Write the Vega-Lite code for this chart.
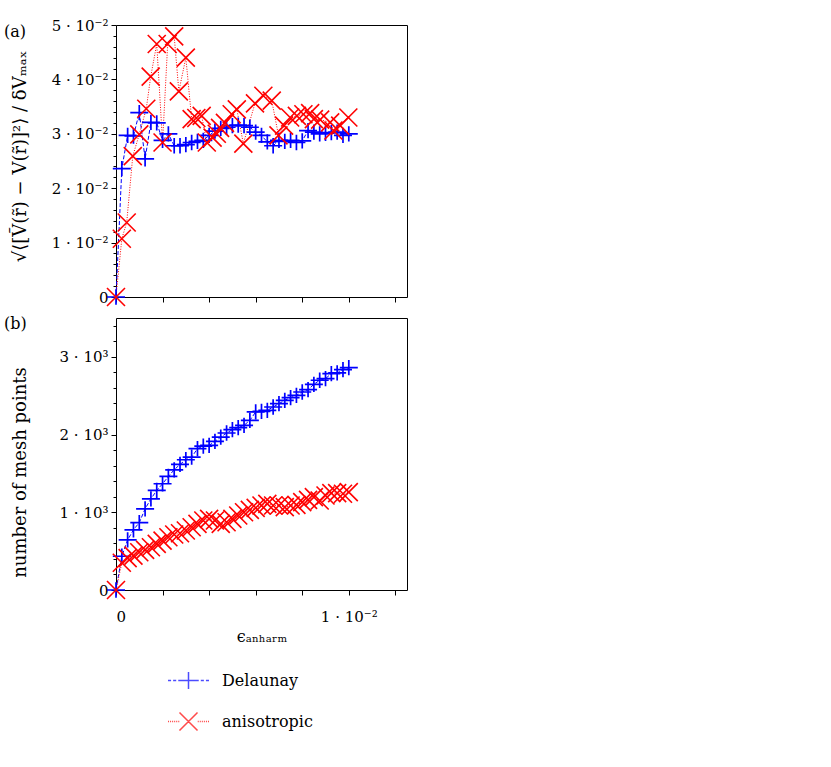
{
  "$schema": "https://vega.github.io/schema/vega-lite/v6.json",
  "padding": {"left": 3, "top": 17, "right": 5, "bottom": 5},
  "background": "white",
  "bounds": "flush",
  "spacing": 21,
  "datasets": {
    "a": [
      {"eps": 0, "value": 0, "method": "Delaunay"},
      {"eps": 0.00025, "value": 0.0236, "method": "Delaunay"},
      {"eps": 0.0005, "value": 0.0297, "method": "Delaunay"},
      {"eps": 0.00075, "value": 0.0296, "method": "Delaunay"},
      {"eps": 0.001, "value": 0.0339, "method": "Delaunay"},
      {"eps": 0.00125, "value": 0.0254, "method": "Delaunay"},
      {"eps": 0.0015, "value": 0.0321, "method": "Delaunay"},
      {"eps": 0.00175, "value": 0.032, "method": "Delaunay"},
      {"eps": 0.002, "value": 0.0288, "method": "Delaunay"},
      {"eps": 0.00225, "value": 0.03, "method": "Delaunay"},
      {"eps": 0.0025, "value": 0.0278, "method": "Delaunay"},
      {"eps": 0.00275, "value": 0.0278, "method": "Delaunay"},
      {"eps": 0.003, "value": 0.028, "method": "Delaunay"},
      {"eps": 0.00325, "value": 0.0284, "method": "Delaunay"},
      {"eps": 0.0035, "value": 0.0286, "method": "Delaunay"},
      {"eps": 0.00375, "value": 0.0288, "method": "Delaunay"},
      {"eps": 0.004, "value": 0.0297, "method": "Delaunay"},
      {"eps": 0.00425, "value": 0.0305, "method": "Delaunay"},
      {"eps": 0.0045, "value": 0.031, "method": "Delaunay"},
      {"eps": 0.00475, "value": 0.0312, "method": "Delaunay"},
      {"eps": 0.005, "value": 0.0315, "method": "Delaunay"},
      {"eps": 0.00525, "value": 0.0316, "method": "Delaunay"},
      {"eps": 0.0055, "value": 0.0315, "method": "Delaunay"},
      {"eps": 0.00575, "value": 0.0312, "method": "Delaunay"},
      {"eps": 0.006, "value": 0.0303, "method": "Delaunay"},
      {"eps": 0.00625, "value": 0.0297, "method": "Delaunay"},
      {"eps": 0.0065, "value": 0.0285, "method": "Delaunay"},
      {"eps": 0.00675, "value": 0.0278, "method": "Delaunay"},
      {"eps": 0.007, "value": 0.0288, "method": "Delaunay"},
      {"eps": 0.00725, "value": 0.0286, "method": "Delaunay"},
      {"eps": 0.0075, "value": 0.0288, "method": "Delaunay"},
      {"eps": 0.00775, "value": 0.0284, "method": "Delaunay"},
      {"eps": 0.008, "value": 0.0287, "method": "Delaunay"},
      {"eps": 0.00825, "value": 0.0306, "method": "Delaunay"},
      {"eps": 0.0085, "value": 0.0303, "method": "Delaunay"},
      {"eps": 0.00875, "value": 0.03, "method": "Delaunay"},
      {"eps": 0.009, "value": 0.0301, "method": "Delaunay"},
      {"eps": 0.00925, "value": 0.0302, "method": "Delaunay"},
      {"eps": 0.0095, "value": 0.0303, "method": "Delaunay"},
      {"eps": 0.00975, "value": 0.0297, "method": "Delaunay"},
      {"eps": 0.01, "value": 0.03, "method": "Delaunay"},
      {"eps": 0, "value": 0, "method": "anisotropic"},
      {"eps": 0.00025, "value": 0.0107, "method": "anisotropic"},
      {"eps": 0.00046, "value": 0.0137, "method": "anisotropic"},
      {"eps": 0.00072, "value": 0.0259, "method": "anisotropic"},
      {"eps": 0.001, "value": 0.0299, "method": "anisotropic"},
      {"eps": 0.0013, "value": 0.0346, "method": "anisotropic"},
      {"eps": 0.00149, "value": 0.0405, "method": "anisotropic"},
      {"eps": 0.00175, "value": 0.0465, "method": "anisotropic"},
      {"eps": 0.002, "value": 0.0284, "method": "anisotropic"},
      {"eps": 0.00222, "value": 0.0465, "method": "anisotropic"},
      {"eps": 0.0025, "value": 0.0479, "method": "anisotropic"},
      {"eps": 0.0027, "value": 0.0378, "method": "anisotropic"},
      {"eps": 0.003, "value": 0.044, "method": "anisotropic"},
      {"eps": 0.00325, "value": 0.0327, "method": "anisotropic"},
      {"eps": 0.00345, "value": 0.0329, "method": "anisotropic"},
      {"eps": 0.00368, "value": 0.0333, "method": "anisotropic"},
      {"eps": 0.0039, "value": 0.0284, "method": "anisotropic"},
      {"eps": 0.00415, "value": 0.0293, "method": "anisotropic"},
      {"eps": 0.00433, "value": 0.03, "method": "anisotropic"},
      {"eps": 0.00447, "value": 0.0311, "method": "anisotropic"},
      {"eps": 0.00468, "value": 0.032, "method": "anisotropic"},
      {"eps": 0.00497, "value": 0.0336, "method": "anisotropic"},
      {"eps": 0.00519, "value": 0.0345, "method": "anisotropic"},
      {"eps": 0.00547, "value": 0.0282, "method": "anisotropic"},
      {"eps": 0.00597, "value": 0.0356, "method": "anisotropic"},
      {"eps": 0.00633, "value": 0.037, "method": "anisotropic"},
      {"eps": 0.00669, "value": 0.0361, "method": "anisotropic"},
      {"eps": 0.00698, "value": 0.0297, "method": "anisotropic"},
      {"eps": 0.00722, "value": 0.0315, "method": "anisotropic"},
      {"eps": 0.00748, "value": 0.033, "method": "anisotropic"},
      {"eps": 0.00777, "value": 0.0333, "method": "anisotropic"},
      {"eps": 0.00805, "value": 0.0336, "method": "anisotropic"},
      {"eps": 0.00834, "value": 0.0338, "method": "anisotropic"},
      {"eps": 0.0085, "value": 0.0327, "method": "anisotropic"},
      {"eps": 0.00877, "value": 0.0326, "method": "anisotropic"},
      {"eps": 0.0092, "value": 0.0321, "method": "anisotropic"},
      {"eps": 0.00934, "value": 0.0306, "method": "anisotropic"},
      {"eps": 0.00963, "value": 0.0315, "method": "anisotropic"},
      {"eps": 0.00998, "value": 0.033, "method": "anisotropic"}
    ],
    "b": [
      {"eps": 0, "value": 0, "method": "Delaunay"},
      {"eps": 0.00025, "value": 434, "method": "Delaunay"},
      {"eps": 0.0005, "value": 645, "method": "Delaunay"},
      {"eps": 0.00075, "value": 774, "method": "Delaunay"},
      {"eps": 0.001, "value": 868, "method": "Delaunay"},
      {"eps": 0.00125, "value": 1044, "method": "Delaunay"},
      {"eps": 0.0015, "value": 1173, "method": "Delaunay"},
      {"eps": 0.00175, "value": 1281, "method": "Delaunay"},
      {"eps": 0.002, "value": 1367, "method": "Delaunay"},
      {"eps": 0.00225, "value": 1461, "method": "Delaunay"},
      {"eps": 0.0025, "value": 1547, "method": "Delaunay"},
      {"eps": 0.00275, "value": 1616, "method": "Delaunay"},
      {"eps": 0.003, "value": 1676, "method": "Delaunay"},
      {"eps": 0.00325, "value": 1710, "method": "Delaunay"},
      {"eps": 0.0035, "value": 1818, "method": "Delaunay"},
      {"eps": 0.00375, "value": 1852, "method": "Delaunay"},
      {"eps": 0.004, "value": 1861, "method": "Delaunay"},
      {"eps": 0.00425, "value": 1912, "method": "Delaunay"},
      {"eps": 0.0045, "value": 1968, "method": "Delaunay"},
      {"eps": 0.00475, "value": 2020, "method": "Delaunay"},
      {"eps": 0.005, "value": 2063, "method": "Delaunay"},
      {"eps": 0.00525, "value": 2089, "method": "Delaunay"},
      {"eps": 0.0055, "value": 2119, "method": "Delaunay"},
      {"eps": 0.00575, "value": 2183, "method": "Delaunay"},
      {"eps": 0.006, "value": 2291, "method": "Delaunay"},
      {"eps": 0.00625, "value": 2299, "method": "Delaunay"},
      {"eps": 0.0065, "value": 2312, "method": "Delaunay"},
      {"eps": 0.00675, "value": 2355, "method": "Delaunay"},
      {"eps": 0.007, "value": 2398, "method": "Delaunay"},
      {"eps": 0.00725, "value": 2441, "method": "Delaunay"},
      {"eps": 0.0075, "value": 2475, "method": "Delaunay"},
      {"eps": 0.00775, "value": 2505, "method": "Delaunay"},
      {"eps": 0.008, "value": 2548, "method": "Delaunay"},
      {"eps": 0.00825, "value": 2578, "method": "Delaunay"},
      {"eps": 0.0085, "value": 2647, "method": "Delaunay"},
      {"eps": 0.00875, "value": 2699, "method": "Delaunay"},
      {"eps": 0.009, "value": 2720, "method": "Delaunay"},
      {"eps": 0.00925, "value": 2785, "method": "Delaunay"},
      {"eps": 0.0095, "value": 2793, "method": "Delaunay"},
      {"eps": 0.00975, "value": 2836, "method": "Delaunay"},
      {"eps": 0.01, "value": 2862, "method": "Delaunay"},
      {"eps": 0, "value": 0, "method": "anisotropic"},
      {"eps": 0.00025, "value": 350, "method": "anisotropic"},
      {"eps": 0.0005, "value": 410, "method": "anisotropic"},
      {"eps": 0.00075, "value": 443, "method": "anisotropic"},
      {"eps": 0.001, "value": 486, "method": "anisotropic"},
      {"eps": 0.00125, "value": 516, "method": "anisotropic"},
      {"eps": 0.0015, "value": 550, "method": "anisotropic"},
      {"eps": 0.00175, "value": 593, "method": "anisotropic"},
      {"eps": 0.002, "value": 636, "method": "anisotropic"},
      {"eps": 0.00225, "value": 679, "method": "anisotropic"},
      {"eps": 0.0025, "value": 714, "method": "anisotropic"},
      {"eps": 0.00275, "value": 731, "method": "anisotropic"},
      {"eps": 0.003, "value": 765, "method": "anisotropic"},
      {"eps": 0.00325, "value": 808, "method": "anisotropic"},
      {"eps": 0.0035, "value": 851, "method": "anisotropic"},
      {"eps": 0.00375, "value": 894, "method": "anisotropic"},
      {"eps": 0.004, "value": 915, "method": "anisotropic"},
      {"eps": 0.00425, "value": 894, "method": "anisotropic"},
      {"eps": 0.0045, "value": 851, "method": "anisotropic"},
      {"eps": 0.00475, "value": 872, "method": "anisotropic"},
      {"eps": 0.005, "value": 915, "method": "anisotropic"},
      {"eps": 0.00525, "value": 958, "method": "anisotropic"},
      {"eps": 0.0055, "value": 1001, "method": "anisotropic"},
      {"eps": 0.00575, "value": 1031, "method": "anisotropic"},
      {"eps": 0.006, "value": 1057, "method": "anisotropic"},
      {"eps": 0.00625, "value": 1087, "method": "anisotropic"},
      {"eps": 0.0065, "value": 1109, "method": "anisotropic"},
      {"eps": 0.00675, "value": 1087, "method": "anisotropic"},
      {"eps": 0.007, "value": 1087, "method": "anisotropic"},
      {"eps": 0.00725, "value": 1066, "method": "anisotropic"},
      {"eps": 0.0075, "value": 1087, "method": "anisotropic"},
      {"eps": 0.00775, "value": 1096, "method": "anisotropic"},
      {"eps": 0.008, "value": 1130, "method": "anisotropic"},
      {"eps": 0.00825, "value": 1160, "method": "anisotropic"},
      {"eps": 0.0085, "value": 1195, "method": "anisotropic"},
      {"eps": 0.00875, "value": 1152, "method": "anisotropic"},
      {"eps": 0.009, "value": 1216, "method": "anisotropic"},
      {"eps": 0.00925, "value": 1246, "method": "anisotropic"},
      {"eps": 0.0095, "value": 1246, "method": "anisotropic"},
      {"eps": 0.00975, "value": 1238, "method": "anisotropic"},
      {"eps": 0.01, "value": 1259, "method": "anisotropic"}
    ]
  },
  "resolve": {"scale": {"y": "independent", "x": "independent"}, "axis": {"y": "independent", "x": "independent"}},
  "vconcat": [
    {
      "width": 291,
      "height": 272,
      "data": {"name": "a"},
      "title": {"text": "(a)", "anchor": "start", "frame": "bounds", "orient": "top", "baseline": "top", "offset": 0, "dx": -7, "dy": 22, "fontSize": 16, "font": "DejaVu Serif", "fontWeight": "normal", "color": "black"},
      "resolve": {"axis": {"y": "independent"}},
      "layer": [
        {
          "transform": [{"filter": "datum.method === 'Delaunay'"}],
          "mark": {"type": "line", "strokeWidth": 1, "strokeDash": [4, 2], "color": "#0000ff"},
          "encoding": {
            "x": {"field": "eps", "type": "quantitative", "scale": {"domain": [0, 0.0125], "nice": false, "zero": false},
                  "axis": {"values": [0, 0.002, 0.004, 0.006, 0.008, 0.01, 0.012], "labels": false, "title": null}},
            "y": {"field": "value", "type": "quantitative", "scale": {"domain": [0, 0.05], "nice": false},
                  "axis": {"values": [0, 0.01, 0.02, 0.03, 0.04, 0.05], "orient": "left",
                           "labelExpr": "datum.value == 0 ? '0' : round(datum.value*100) + ' · 10⁻²'",
                           "title": "√⟨[Ṽ(r̃) − V(r̃)]²⟩ / δVₘₐₓ", "titleX": -96, "titleY": 131, "titleBaseline": "middle", "titleFontSize": 18}}
          }
        },
        {
          "transform": [{"filter": "datum.method === 'anisotropic'"}],
          "mark": {"type": "line", "strokeWidth": 1, "strokeDash": [1, 1.5], "color": "#ff0000"},
          "encoding": {
            "x": {"field": "eps", "type": "quantitative", "scale": {"domain": [0, 0.0125], "nice": false, "zero": false},
                  "axis": {"values": [0, 0.002, 0.004, 0.006, 0.008, 0.01, 0.012], "labels": false, "title": null}},
            "y": {"field": "value", "type": "quantitative", "scale": {"domain": [0, 0.05], "nice": false}, "axis": null}
          }
        },
        {
          "transform": [{"filter": "datum.method === 'Delaunay'"}],
          "mark": {"type": "point", "filled": false, "strokeWidth": 1.7, "size": 324, "opacity": 1, "color": "#0000ff", "shape": "M-1,0H1M0,-0.85V0.85"},
          "encoding": {
            "x": {"field": "eps", "type": "quantitative", "scale": {"domain": [0, 0.0125], "nice": false, "zero": false},
                  "axis": {"values": [0, 0.002, 0.004, 0.006, 0.008, 0.01, 0.012], "labels": false, "title": null}},
            "y": {"field": "value", "type": "quantitative", "scale": {"domain": [0, 0.05], "nice": false},
                  "axis": {"orient": "left", "values": [0.002, 0.004, 0.006, 0.008, 0.012, 0.014, 0.016, 0.018, 0.022, 0.024, 0.026, 0.028, 0.032, 0.034, 0.036, 0.038, 0.042, 0.044, 0.046, 0.048], "labels": false, "title": null, "tickSize": 3}}
          }
        },
        {
          "transform": [{"filter": "datum.method === 'anisotropic'"}],
          "mark": {"type": "point", "filled": false, "strokeWidth": 1.6, "size": 324, "opacity": 1, "color": "#ff0000", "shape": "M-1,-1L1,1M-1,1L1,-1"},
          "encoding": {
            "x": {"field": "eps", "type": "quantitative", "scale": {"domain": [0, 0.0125], "nice": false, "zero": false},
                  "axis": {"values": [0, 0.002, 0.004, 0.006, 0.008, 0.01, 0.012], "labels": false, "title": null}},
            "y": {"field": "value", "type": "quantitative", "scale": {"domain": [0, 0.05], "nice": false}, "axis": null}
          }
        }
      ]
    },
    {
      "width": 291,
      "height": 272,
      "data": {"name": "b"},
      "title": {"text": "(b)", "anchor": "start", "frame": "bounds", "orient": "top", "baseline": "top", "offset": 0, "dx": -7, "dy": 14, "fontSize": 16, "font": "DejaVu Serif", "fontWeight": "normal", "color": "black"},
      "resolve": {"axis": {"y": "independent"}},
      "layer": [
        {
          "transform": [{"filter": "datum.method === 'Delaunay'"}],
          "mark": {"type": "line", "strokeWidth": 1, "strokeDash": [4, 2], "color": "#0000ff"},
          "encoding": {
            "x": {"field": "eps", "type": "quantitative", "scale": {"domain": [0, 0.0125], "nice": false, "zero": false},
                  "axis": {"values": [0, 0.002, 0.004, 0.006, 0.008, 0.01, 0.012], "labelExpr": "datum.value == 0 ? '0' : (abs(datum.value - 0.01) < 1e-9 ? '1 · 10⁻²' : '')", "labelPadding": 14, "title": "ϵₐₙₕₐᵣₘ", "titlePadding": 4}},
            "y": {"field": "value", "type": "quantitative", "scale": {"domain": [0, 3500], "nice": false},
                  "axis": {"values": [0, 1000, 2000, 3000], "orient": "left",
                           "labelExpr": "datum.value == 0 ? '0' : round(datum.value/1000) + ' · 10³'",
                           "title": "number of mesh points", "titleX": -96, "titleY": 154, "titleBaseline": "middle", "titleFontSize": 18}}
          }
        },
        {
          "transform": [{"filter": "datum.method === 'anisotropic'"}],
          "mark": {"type": "line", "strokeWidth": 1, "strokeDash": [1, 1.5], "color": "#ff0000"},
          "encoding": {
            "x": {"field": "eps", "type": "quantitative", "scale": {"domain": [0, 0.0125], "nice": false, "zero": false},
                  "axis": {"values": [0, 0.002, 0.004, 0.006, 0.008, 0.01, 0.012], "labelExpr": "datum.value == 0 ? '0' : (abs(datum.value - 0.01) < 1e-9 ? '1 · 10⁻²' : '')", "labelPadding": 14, "title": "ϵₐₙₕₐᵣₘ", "titlePadding": 4}},
            "y": {"field": "value", "type": "quantitative", "scale": {"domain": [0, 3500], "nice": false}, "axis": null}
          }
        },
        {
          "transform": [{"filter": "datum.method === 'Delaunay'"}],
          "mark": {"type": "point", "filled": false, "strokeWidth": 1.7, "size": 324, "opacity": 1, "color": "#0000ff", "shape": "M-1,0H1M0,-0.85V0.85"},
          "encoding": {
            "x": {"field": "eps", "type": "quantitative", "scale": {"domain": [0, 0.0125], "nice": false, "zero": false},
                  "axis": {"values": [0, 0.002, 0.004, 0.006, 0.008, 0.01, 0.012], "labelExpr": "datum.value == 0 ? '0' : (abs(datum.value - 0.01) < 1e-9 ? '1 · 10⁻²' : '')", "labelPadding": 14, "title": "ϵₐₙₕₐᵣₘ", "titlePadding": 4}},
            "y": {"field": "value", "type": "quantitative", "scale": {"domain": [0, 3500], "nice": false},
                  "axis": {"orient": "left", "values": [200, 400, 600, 800, 1200, 1400, 1600, 1800, 2200, 2400, 2600, 2800, 3200, 3400], "labels": false, "title": null, "tickSize": 3}}
          }
        },
        {
          "transform": [{"filter": "datum.method === 'anisotropic'"}],
          "mark": {"type": "point", "filled": false, "strokeWidth": 1.6, "size": 324, "opacity": 1, "color": "#ff0000", "shape": "M-1,-1L1,1M-1,1L1,-1"},
          "encoding": {
            "x": {"field": "eps", "type": "quantitative", "scale": {"domain": [0, 0.0125], "nice": false, "zero": false},
                  "axis": {"values": [0, 0.002, 0.004, 0.006, 0.008, 0.01, 0.012], "labelExpr": "datum.value == 0 ? '0' : (abs(datum.value - 0.01) < 1e-9 ? '1 · 10⁻²' : '')", "labelPadding": 14, "title": "ϵₐₙₕₐᵣₘ", "titlePadding": 4}},
            "y": {"field": "value", "type": "quantitative", "scale": {"domain": [0, 3500], "nice": false}, "axis": null}
          }
        },
        {
          "transform": [{"filter": "datum.value < 0"}],
          "mark": {"type": "point", "filled": false, "strokeWidth": 1.5},
          "encoding": {
            "x": {"field": "eps", "type": "quantitative", "scale": {"domain": [0, 0.0125], "nice": false, "zero": false},
                  "axis": {"values": [0, 0.002, 0.004, 0.006, 0.008, 0.01, 0.012], "labelExpr": "datum.value == 0 ? '0' : (abs(datum.value - 0.01) < 1e-9 ? '1 · 10⁻²' : '')", "labelPadding": 14, "title": "ϵₐₙₕₐᵣₘ", "titlePadding": 4}},
            "y": {"field": "value", "type": "quantitative", "scale": {"domain": [0, 3500], "nice": false}, "axis": null},
            "color": {"field": "method", "type": "nominal", "scale": {"domain": ["Delaunay", "anisotropic"], "range": ["#0000ff", "#ff0000"]},
                      "legend": {"title": null, "orient": "none", "legendX": 51, "legendY": 634,
                                 "symbolSize": 1681, "symbolStrokeWidth": 1.5, "labelFont": "DejaVu Serif", "labelFontSize": 16, "labelColor": "black", "labelOffset": 12, "rowPadding": 7}},
            "shape": {"field": "method", "type": "nominal",
                      "scale": {"domain": ["Delaunay", "anisotropic"],
                                "range": ["M-1,0H-0.85M-0.75,0H-0.6M-0.5,0H-0.35M-0.44,0H0.44M0,-0.42V0.42M0.35,0H0.5M0.6,0H0.75M0.85,0H1",
                                          "M-1,0H-0.95M-0.9,0H-0.85M-0.8,0H-0.75M-0.7,0H-0.65M-0.6,0H-0.55M-0.5,0H-0.45M0.45,0H0.5M0.55,0H0.6M0.65,0H0.7M0.75,0H0.8M0.85,0H0.9M0.95,0H1M-0.44,-0.44L0.44,0.44M-0.44,0.44L0.44,-0.44"]},
                      "legend": {"title": null, "orient": "none", "legendX": 51, "legendY": 634,
                                 "symbolSize": 1681, "symbolStrokeWidth": 1.5, "labelFont": "DejaVu Serif", "labelFontSize": 16, "labelColor": "black", "labelOffset": 12, "rowPadding": 7}}
          }
        }
      ]
    }
  ],
  "config": {
    "font": "DejaVu Serif",
    "view": {"stroke": "black", "strokeWidth": 1},
    "axis": {"domain": false, "grid": false, "ticks": true, "tickColor": "black", "tickWidth": 1, "tickSize": 5,
             "labelFont": "DejaVu Serif", "labelFontSize": 15, "labelColor": "black", "labelPadding": 3,
             "titleFont": "DejaVu Serif", "titleFontSize": 16, "titleFontWeight": "normal", "titleColor": "black"}
  }
}
